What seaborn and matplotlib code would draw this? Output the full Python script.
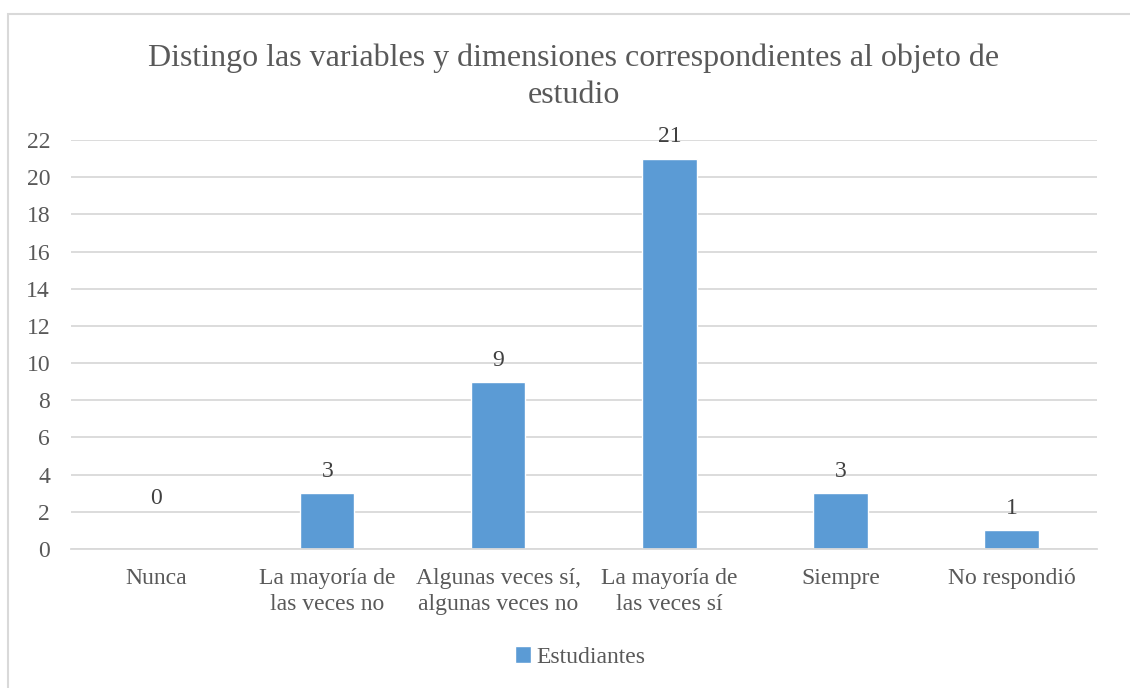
import matplotlib
matplotlib.use("Agg")
import matplotlib.pyplot as plt
import seaborn as sns
import pandas as pd
from matplotlib.patches import Rectangle

# Data
categorias = ["Nunca", "La mayoría de\nlas veces no", "Algunas veces sí,\nalgunas veces no",
              "La mayoría de\nlas veces sí", "Siempre", "No respondió"]
estudiantes = [0, 3, 9, 21, 3, 1]
yticks = list(range(0, 23, 2))

df = pd.DataFrame({"categoria": categorias, "Estudiantes": estudiantes})

sns.set_style("white")
plt.rcParams["font.family"] = ["Liberation Serif", "DejaVu Serif"]

blue = "#5B9BD5"
text_grey = "#595959"

fig = plt.figure(figsize=(11.3, 6.88), dpi=100)
ax = fig.add_axes([0.0628, 0.202, 0.908, 0.5945])

sns.barplot(data=df, x="categoria", y="Estudiantes", color=blue, width=0.316,
            saturation=1, label="Estudiantes", ax=ax)

ax.set_ylim(0, 22)
ax.set_xlim(-0.5, len(categorias) - 0.5)
ax.set_yticks(yticks)
ax.yaxis.grid(True, color="#D9D9D9", linewidth=1.3)
ax.set_axisbelow(True)
for s in ["top", "right", "left"]:
    ax.spines[s].set_visible(False)
ax.spines["bottom"].set_color("#D9D9D9")
ax.spines["bottom"].set_linewidth(1.3)
ax.tick_params(axis="both", length=0, labelsize=17, colors=text_grey)
ax.tick_params(axis="x", pad=14)
ax.tick_params(axis="y", pad=15)
for lbl in ax.get_xticklabels():
    lbl.set_linespacing(1.3)
ax.set_xlabel("")
ax.set_ylabel("")

# value labels (Excel puts the zero label higher)
for i, v in enumerate(estudiantes):
    off = 29 if v == 0 else 8
    ax.annotate(str(v), (i, v), xytext=(0, off), textcoords="offset points",
                ha="center", va="bottom", fontsize=17, color="#404040")

fig.suptitle("Distingo las variables y dimensiones correspondientes al objeto de\nestudio",
             x=0.508, y=0.937, fontsize=23, color=text_grey, linespacing=1.35)

leg = ax.legend(loc="center", bbox_to_anchor=(0.496, -0.264), frameon=False,
                fontsize=17, handlelength=0.7, handleheight=0.7, handletextpad=0.2)
for t in leg.get_texts():
    t.set_color(text_grey)

# chart border
fig.patches.append(Rectangle((8 / 1130, -0.1), 1.2, 1 - 14 / 688 + 0.1,
                             transform=fig.transFigure, fill=False,
                             edgecolor="#D9D9D9", linewidth=1.5))

fig.savefig("out.png", dpi=100)
